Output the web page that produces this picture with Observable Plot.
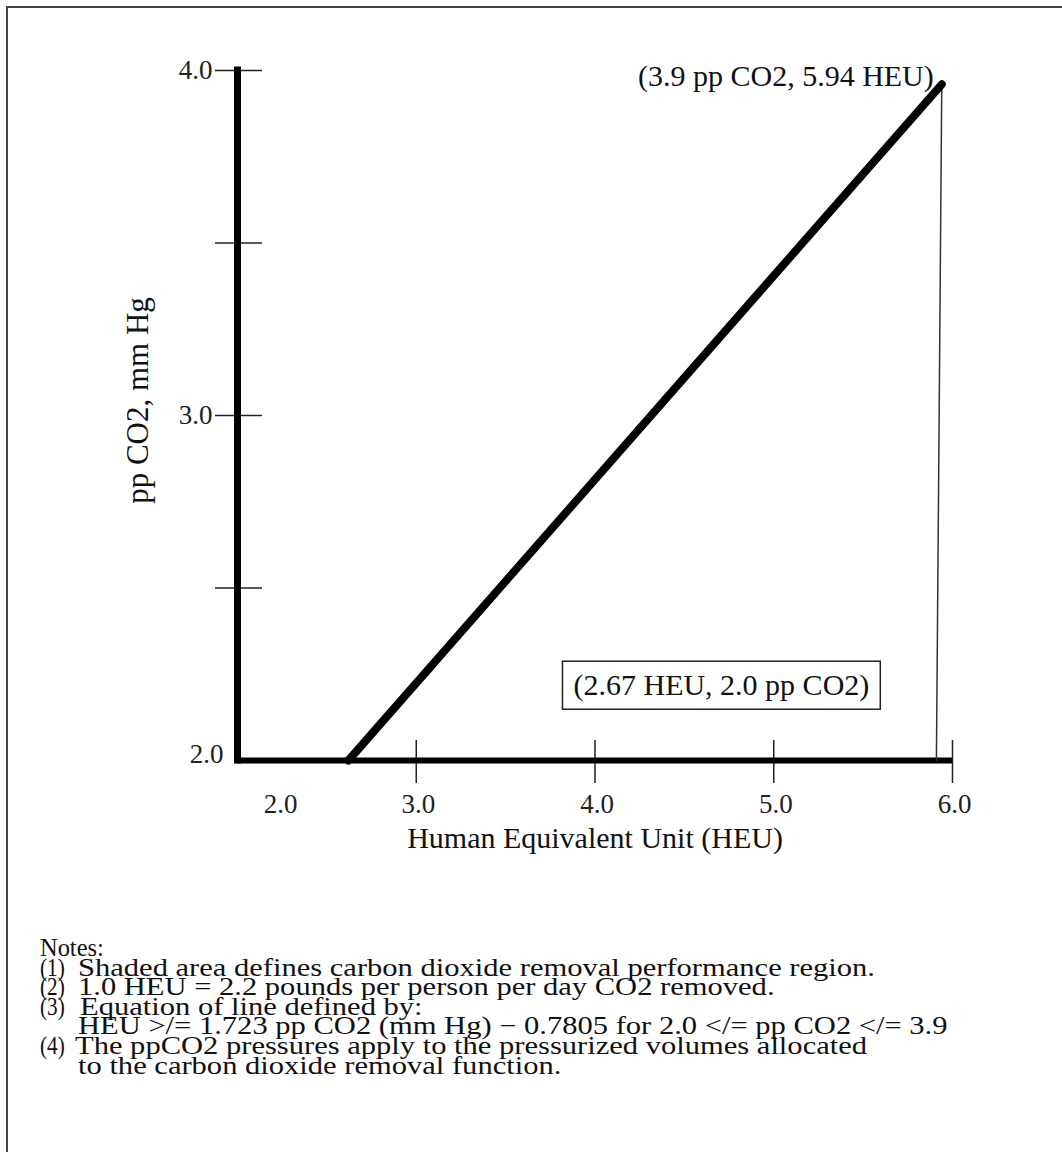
<!DOCTYPE html>
<html>
<head>
<meta charset="utf-8">
<script src="https://cdn.jsdelivr.net/npm/d3@7"></script>
<script src="https://cdn.jsdelivr.net/npm/@observablehq/plot@0.6"></script>
<style>
  html, body { margin: 0; padding: 0; background: #fff; overflow: hidden; }
  body { width: 1062px; height: 1152px; position: relative; font-family: "Liberation Serif", "Times New Roman", serif; }
  #border { position: absolute; left: 6px; top: 6px; width: 1080px; height: 1180px; border: 2px solid #444; box-sizing: border-box; }
  #chart { position: absolute; left: 0; top: 0; }
  #notes { position: absolute; left: 40px; top: 938px; font-family: "Liberation Serif", "Times New Roman", serif; font-size: 25px; line-height: 19.6px; color: #111; white-space: nowrap; }
  #notes .row { position: relative; height: 19.6px; }
  #notes .num, #notes .txt { position: absolute; transform-origin: left center; display: inline-block; line-height: 19.6px; }
  #notes .num { left: 0; }
</style>
</head>
<body>
<div id="border"></div>
<div id="chart"></div>
<div id="notes"></div>
<script>
// ---- data ----
const xDomain = [2.0, 6.0];
const yDomain = [2.0, 4.0];
const xTicks = [3.0, 4.0, 5.0, 6.0];
const xTickLabels = [3.0, 4.0, 5.0, 6.0];
const xOriginLabel = [2.0];
const yTicks = [2.5, 3.0, 3.5, 4.0];
const yTickLabels = [3.0, 4.0];
const yOriginLabel = [2.0];
const boundaryHEU = [2.62, 5.94];
const boundaryPP = [2.0, 3.96];
const edgeHEU = [5.94, 5.91];
const edgePP = [3.96, 2.0];
const topLabel = "(3.9 pp CO2, 5.94 HEU)";
const boxLabel = "(2.67 HEU, 2.0 pp CO2)";
const boxLabelPos = [4.707, 2.217];
const xLabel = "Human Equivalent Unit (HEU)";
const yLabel = "pp CO2, mm Hg";
const noteHeader = "Notes:";
const noteNums = ["(1)", "(2)", "(3)", "", "(4)", ""];
const noteTexts = [
  "Shaded area defines carbon dioxide removal performance region.",
  "1.0 HEU = 2.2 pounds per person per day CO2 removed.",
  "Equation of line defined by:",
  "HEU >/= 1.723 pp CO2 (mm Hg) \u2212 0.7805 for 2.0 </= pp CO2 </= 3.9",
  "The ppCO2 pressures apply to the pressurized volumes allocated",
  "to the carbon dioxide removal function."
];

const boundary = boundaryHEU.map((h, i) => ({heu: h, pp: boundaryPP[i]}));
const edge = edgeHEU.map((h, i) => ({heu: h, pp: edgePP[i]}));
const fmt = d3.format(".1f");
const font = "Liberation Serif, Times New Roman, serif";

const chart = Plot.plot({
  width: 1062,
  height: 880,
  marginLeft: 237,
  marginRight: 110,
  marginTop: 70,
  marginBottom: 120,
  style: {fontFamily: font, background: "transparent", color: "#111"},
  x: {domain: xDomain, axis: null},
  y: {domain: yDomain, axis: null},
  marks: [
    // tick marks crossing the y axis
    Plot.axisY(yTicks, {anchor: "left", label: null, tickSize: 47, dx: 25, tickFormat: () => "", strokeWidth: 1.5, stroke: "#222"}),
    // y tick labels
    Plot.text(yTickLabels, {x: xDomain[0], y: d => d, text: d => fmt(d), textAnchor: "end", dx: -25, fontSize: 27, fill: "#222"}),
    Plot.text(yOriginLabel, {x: xDomain[0], y: d => d, text: d => fmt(d), textAnchor: "end", dx: -14, dy: -6, fontSize: 27, fill: "#222"}),
    // tick marks crossing the x axis
    Plot.axisX(xTicks, {anchor: "bottom", label: null, tickSize: 43, dy: -20, tickFormat: () => "", strokeWidth: 1.5, stroke: "#222"}),
    // x tick labels
    Plot.text(xTickLabels, {x: d => d, y: yDomain[0], text: d => fmt(d), dx: 2, dy: 44, fontSize: 27, fill: "#222"}),
    Plot.text(xOriginLabel, {x: d => d, y: yDomain[0], text: d => fmt(d), dx: 43, dy: 44, fontSize: 27, fill: "#222"}),
    // heavy axes
    Plot.ruleX([xDomain[0]], {y1: yDomain[0], y2: yDomain[1], strokeWidth: 7, stroke: "#000", strokeLinecap: "square"}),
    Plot.ruleY([yDomain[0]], {x1: xDomain[0], x2: xDomain[1], strokeWidth: 6, stroke: "#000"}),
    // thin edge line
    Plot.line(edge, {x: "heu", y: "pp", stroke: "#333", strokeWidth: 1.5}),
    // boundary line
    Plot.line(boundary, {x: "heu", y: "pp", stroke: "#000", strokeWidth: 8, strokeLinecap: "round"}),
    // annotations
    Plot.text([topLabel], {x: boundaryHEU[1], y: boundaryPP[1], text: d => d, textAnchor: "end", dx: -8, dy: -8, fontSize: 30, fill: "#111"}),
    Plot.text([boxLabel], {x: boxLabelPos[0], y: boxLabelPos[1], text: d => d, fontSize: 30, fill: "#111", className: "boxlabel"}),
    // axis titles
    Plot.text([xLabel], {frameAnchor: "bottom", text: d => d, lineAnchor: "middle", textAnchor: "middle", dy: 78, fontSize: 30, fill: "#111"}),
    Plot.text([yLabel], {frameAnchor: "left", text: d => d, rotate: -90, textAnchor: "middle", lineAnchor: "middle", dx: -99, dy: -15, fontSize: 31, fill: "#111"})
  ]
});
document.getElementById("chart").appendChild(chart);

// box around the lower annotation
const lbl = chart.querySelector(".boxlabel text");
if (lbl) {
  const bb = lbl.getBBox();
  const padX = 11, padY = 7;
  const g = lbl.parentNode;
  const rect = document.createElementNS("http://www.w3.org/2000/svg", "rect");
  rect.setAttribute("x", bb.x - padX);
  rect.setAttribute("y", bb.y - padY);
  rect.setAttribute("width", bb.width + 2 * padX);
  rect.setAttribute("height", bb.height + 2 * padY);
  rect.setAttribute("fill", "none");
  rect.setAttribute("stroke", "#222");
  rect.setAttribute("stroke-width", 1.5);
  const t = lbl.getAttribute("transform");
  if (t) rect.setAttribute("transform", t);
  g.insertBefore(rect, lbl);
}

// notes
const notes = document.getElementById("notes");
const head = document.createElement("div");
head.className = "row";
const headSpan = document.createElement("span");
headSpan.className = "txt";
headSpan.style.left = "0px";
headSpan.textContent = noteHeader;
head.appendChild(headSpan);
notes.appendChild(head);
const txtLeft = [38, 38, 40, 38, 35, 38];
const spans = [];
const nums = [];
noteTexts.forEach((t, i) => {
  const row = document.createElement("div");
  row.className = "row";
  const n = document.createElement("span");
  n.className = "num";
  n.textContent = noteNums[i];
  const s = document.createElement("span");
  s.className = "txt";
  s.style.left = txtLeft[i] + "px";
  s.textContent = t;
  row.appendChild(n);
  row.appendChild(s);
  notes.appendChild(row);
  spans.push(s);
  nums.push(n);
});
// one common horizontal scale so that note (1) ends under the boxed label
const w1 = spans[0].getBoundingClientRect().width;
const k = (875 - 40 - txtLeft[0]) / w1;
spans.forEach(s => { s.style.transform = `scaleX(${k})`; });
headSpan.style.transform = `scaleX(${k * 0.8})`;
nums.forEach(n => { n.style.transform = `scaleX(0.85)`; });
</script>
</body>
</html>
